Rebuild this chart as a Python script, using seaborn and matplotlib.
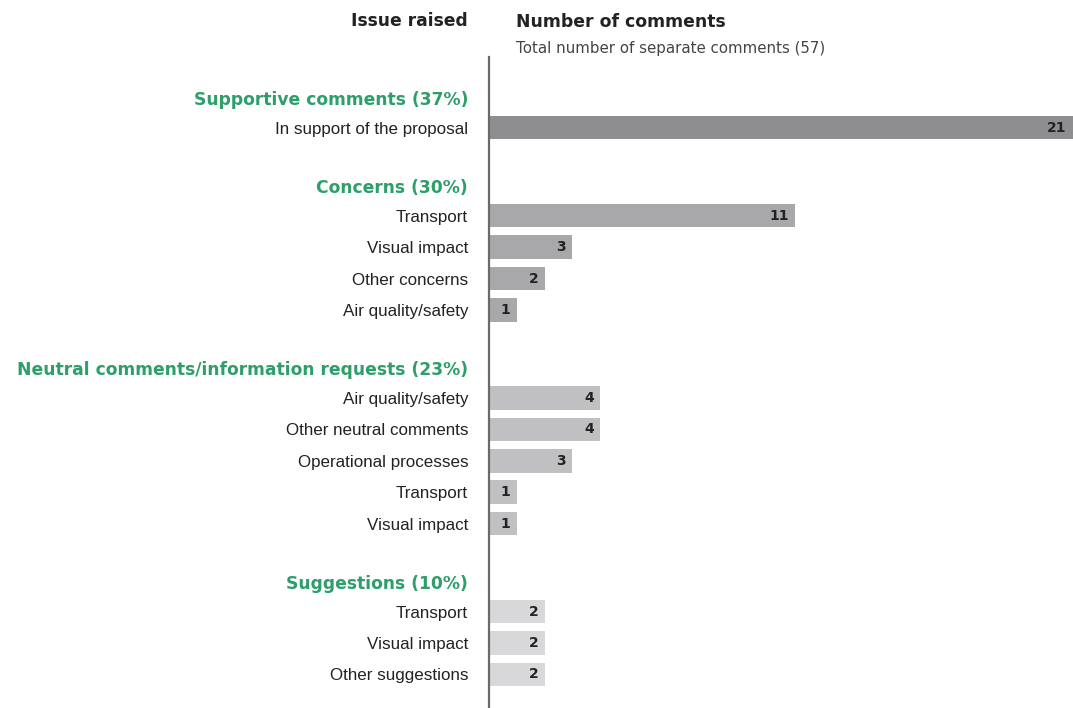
import matplotlib
matplotlib.use("Agg")
import matplotlib.pyplot as plt
import seaborn as sns
import pandas as pd

groups = ["Supportive comments (37%)", "Concerns (30%)",
          "Neutral comments/information requests (23%)", "Suggestions (10%)"]
supportive_labels = ["In support of the proposal"]
supportive_values = [21]
concerns_labels = ["Transport", "Visual impact", "Other concerns", "Air quality/safety"]
concerns_values = [11, 3, 2, 1]
neutral_labels = ["Air quality/safety", "Other neutral comments", "Operational processes",
                  "Transport", "Visual impact"]
neutral_values = [4, 4, 3, 1, 1]
suggestion_labels = ["Transport", "Visual impact", "Other suggestions"]
suggestion_values = [2, 2, 2]
group_colors = ["#8e8e90", "#a8a8aa", "#c0c0c2", "#d8d8da"]

all_labels = [supportive_labels, concerns_labels, neutral_labels, suggestion_labels]
all_values = [supportive_values, concerns_values, neutral_values, suggestion_values]

sns.set_theme(style="white")
plt.rcParams["font.family"] = ["Liberation Sans", "DejaVu Sans"]
BOLD = ["DejaVu Sans"]

# build row positions
rows = []
header_pos = []
p = 0.0
for g, labs, vals in zip(groups, all_labels, all_values):
    header_pos.append(p)
    q = p + 0.95
    for l, v in zip(labs, vals):
        rows.append({"group": g, "label": l, "value": v, "pos": round(q, 3)})
        q += 1.0
    p = q - 1.0 + 1.85
df = pd.DataFrame(rows)

fig = plt.figure(figsize=(10.73, 7.08), dpi=100)
ax = fig.add_axes([489 / 1073, 0.0, 1 - 489 / 1073, 1 - 57 / 708])

sns.barplot(data=df, x="value", y="pos", hue="group", orient="h", native_scale=True,
            palette=dict(zip(groups, group_colors)), width=0.75, dodge=False,
            legend=False, ax=ax, saturation=1, linewidth=0)

ax.set_xlim(0, 21)
ax.set_ylim(19.42, -1.3)

ticks = list(df["pos"]) + header_pos
labels = list(df["label"]) + groups
ax.set_yticks(ticks)
ax.set_yticklabels(labels)
ax.tick_params(axis="y", length=0, pad=15, labelsize=12.25, labelcolor="#222222")
for t in ax.get_yticklabels():
    if t.get_text() in groups:
        t.set_color("#2e9e6a")
        t.set_fontweight("bold")
        t.set_family(BOLD)
        t.set_fontsize(12.3)
ax.set_xticks([])
ax.set_xlabel("")
ax.set_ylabel("")
for s in ["top", "right", "bottom"]:
    ax.spines[s].set_visible(False)
ax.spines["left"].set_color("#6a6a6a")
ax.spines["left"].set_linewidth(1.6)

for _, r in df.iterrows():
    ax.annotate(str(r["value"]), xy=(r["value"], r["pos"]), xytext=(-4.5, 0),
                textcoords="offset points", ha="right", va="center",
                fontsize=10, fontweight="bold", color="#222222", family=BOLD)

fig.text(468 / 1073, 1 - 21 / 708, "Issue raised", ha="right", va="center",
         fontsize=12.3, fontweight="bold", color="#222222", family=BOLD)
fig.text(516 / 1073, 1 - 22 / 708, "Number of comments", ha="left", va="center",
         fontsize=12.4, fontweight="bold", color="#222222", family=BOLD)
fig.text(516 / 1073, 1 - 48 / 708, "Total number of separate comments (57)", ha="left",
         va="center", fontsize=10.8, color="#444444", family=["DejaVu Sans"])

fig.savefig("out.png", dpi=100)
